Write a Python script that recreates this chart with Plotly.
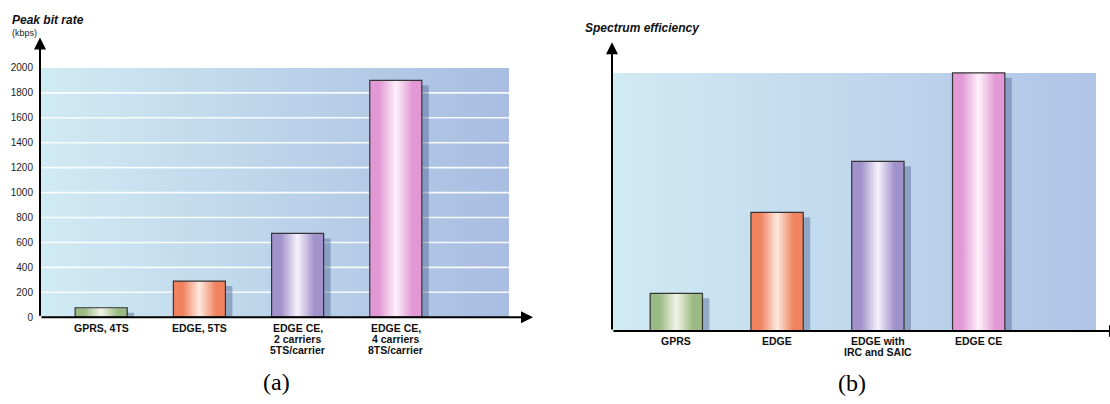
import plotly.graph_objects as go

# ---- (a) peak bit rate, kbps ----
rate_categories = [
    "GPRS, 4TS",
    "EDGE, 5TS",
    "EDGE CE,<br>2 carriers<br>5TS/carrier",
    "EDGE CE,<br>4 carriers<br>8TS/carrier",
]
rate_values = [76, 290, 672, 1900]
rate_ticks = [0, 200, 400, 600, 800, 1000, 1200, 1400, 1600, 1800, 2000]

# ---- (b) spectrum efficiency, relative units ----
eff_categories = ["GPRS", "EDGE", "EDGE with<br>IRC and SAIC", "EDGE CE"]
eff_values = [1.0, 3.15, 4.5, 6.85]

# cylinder-like shading per bar: (edge colour, highlight colour)
bar_styles = [
    ("#9cba84", "#f1f5e8"),
    ("#f0825f", "#fde9df"),
    ("#a292cb", "#f6f2fb"),
    ("#e298d4", "#fdf1fa"),
]

FONT = "Arial, Liberation Sans, sans-serif"
W, H = 1110, 404

fig = go.Figure()


def add_rect(xa, ya, x0, x1, y0, y1, **kw):
    fig.add_trace(go.Scatter(
        x=[x0, x1, x1, x0, x0], y=[y0, y0, y1, y1, y0],
        mode="lines", fill="toself", hoverinfo="skip", showlegend=False,
        xaxis=xa, yaxis=ya, **kw))


def add_chart(xa, ya, values, categories, x_start, panel_right, panel_top,
              panel_scale, bar_w, dx, dy, label_top, grid=None):
    # shaded background panel
    add_rect(xa, ya, x_start, panel_right, 0, panel_top,
             line=dict(width=0),
             fillgradient=dict(type="horizontal", colorscale=panel_scale))
    # white horizontal grid lines
    if grid:
        gx, gy = [], []
        for t in grid:
            gx += [x_start, panel_right, None]
            gy += [t, t, None]
        fig.add_trace(go.Scatter(x=gx, y=gy, mode="lines",
                                 line=dict(color="rgba(255,255,255,0.9)", width=1.6),
                                 hoverinfo="skip", showlegend=False,
                                 xaxis=xa, yaxis=ya))
    for i, v in enumerate(values):
        edge, light = bar_styles[i]
        # drop shadow
        add_rect(xa, ya, i - bar_w / 2 + dx, i + bar_w / 2 + dx, 0, v - dy,
                 line=dict(width=0), fillcolor="rgba(75,92,140,0.42)")
        # bar body
        add_rect(xa, ya, i - bar_w / 2, i + bar_w / 2, 0, v,
                 line=dict(color="#353535", width=1.2),
                 fillgradient=dict(type="horizontal", colorscale=[
                     [0.0, edge], [0.18, edge], [0.5, light],
                     [0.82, edge], [1.0, edge]]))
    # category labels under the axis, tightly spaced lines
    for i, name in enumerate(categories):
        for k, line in enumerate(name.split("<br>")):
            fig.add_annotation(xref=xa, yref=ya, x=i, y=0, text=line,
                               showarrow=False, xanchor="center",
                               yanchor="middle", yshift=-(label_top + 11 * k),
                               font=dict(family=FONT, size=10.5, color="#111",
                                         weight="bold"))


# left chart
xa_range = [-0.623, 4.397]
ya_range = [0, 2245]
add_chart("x", "y", rate_values, rate_categories, xa_range[0], 4.153, 2000,
          [[0, "#d0ebf3"], [1, "#a8bde1"]],
          0.53, 0.071, 40, 11, grid=rate_ticks[1:-1])

# right chart
xb_range = [-0.638, 4.303]
yb_range = [0, 7.66]
add_chart("x2", "y2", eff_values, eff_categories, xb_range[0], 4.164,
          max(eff_values), [[0, "#d0ebf3"], [1, "#b0c4e6"]],
          0.519, 0.069, 0.13, 9.5)

common = dict(showgrid=False, zeroline=False, showline=False, ticks="",
              fixedrange=True)

fig.update_layout(
    width=W, height=H,
    margin=dict(l=0, r=0, t=0, b=0),
    paper_bgcolor="white", plot_bgcolor="rgba(0,0,0,0)",
    showlegend=False,
    xaxis=dict(domain=[40 / W, 533 / W], range=xa_range, anchor="y",
               showticklabels=False, **common),
    yaxis=dict(domain=[1 - 322 / H, 1 - 38 / H], range=ya_range, anchor="x",
               tickvals=rate_ticks, tickfont=dict(family=FONT, size=10, color="#222"),
               ticklabelstandoff=6, **common),
    xaxis2=dict(domain=[612 / W, 1.0], range=xb_range, anchor="y2",
                showticklabels=False, **common),
    yaxis2=dict(domain=[1 - 336 / H, 1 - 43 / H], range=yb_range, anchor="x2",
                showticklabels=False, **common),
)

# axis arrows
arrow = dict(text="", showarrow=True, arrowhead=2, arrowwidth=2,
             arrowsize=1.2, arrowcolor="black")
for xr, yr, xtip in (("x domain", "y domain", 1.0), ("x2 domain", "y2 domain", 1.022)):
    fig.add_annotation(xref=xr, yref=yr, axref=xr, ayref=yr,
                       x=0, y=1, ax=0, ay=0, **arrow)
    fig.add_annotation(xref=xr, yref=yr, axref=xr, ayref=yr,
                       x=xtip, y=0, ax=0, ay=0, **arrow)

# titles
title_font = dict(family=FONT, size=12, color="#111", weight="bold", style="italic")
fig.add_annotation(xref="paper", yref="paper", x=10 / W, y=1 - 20 / H,
                   xanchor="left", yanchor="middle", showarrow=False,
                   text="Peak bit rate", font=title_font)
fig.add_annotation(xref="paper", yref="paper", x=10 / W, y=1 - 33 / H,
                   xanchor="left", yanchor="middle", showarrow=False,
                   text="(kbps)", font=dict(family=FONT, size=9, color="#222"))
fig.add_annotation(xref="paper", yref="paper", x=583 / W, y=1 - 28 / H,
                   xanchor="left", yanchor="middle", showarrow=False,
                   text="Spectrum efficiency", font=title_font)

# sub-figure labels
sub_font = dict(family="Liberation Serif, DejaVu Serif, serif", size=24, color="black")
fig.add_annotation(xref="paper", yref="paper", x=276 / W, y=1 - 388 / H,
                   xanchor="center", yanchor="middle", showarrow=False,
                   text="(a)", font=sub_font)
fig.add_annotation(xref="paper", yref="paper", x=852 / W, y=1 - 389 / H,
                   xanchor="center", yanchor="middle", showarrow=False,
                   text="(b)", font=sub_font)

fig.write_html("out.html")
